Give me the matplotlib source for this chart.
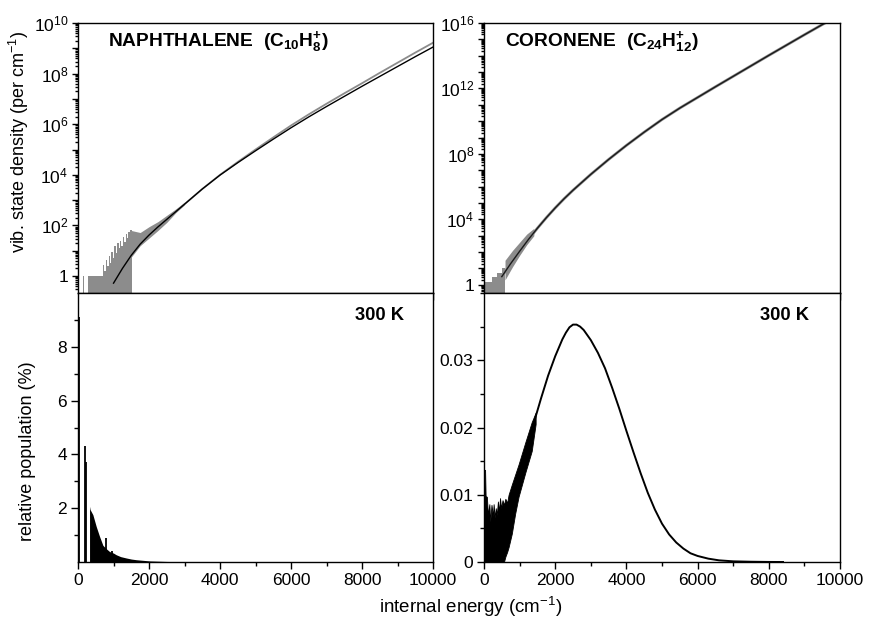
import numpy as np
import matplotlib.pyplot as plt
from matplotlib.ticker import FixedLocator, FuncFormatter, MultipleLocator, NullFormatter

plt.rcParams["font.family"] = ["Liberation Sans", "DejaVu Sans"]
plt.rcParams["mathtext.fontset"] = "custom"
plt.rcParams["mathtext.rm"] = "Liberation Sans"
plt.rcParams["mathtext.bf"] = "Liberation Sans:bold"
plt.rcParams["mathtext.it"] = "Liberation Sans:italic"

### DATA
# naphthalene, state density: exact count histogram (gray, log10 per cm-1)
naph_hist_E = [140, 165, 290, 700, 740, 780, 820, 860, 900, 940, 980, 1020, 1060,
               1100, 1140, 1180, 1220, 1260, 1300, 1340, 1380, 1420, 1460, 1510]
naph_hist_log = [0.0, -3, 0.0, 0.45, 0.2, 0.65, 0.4, 0.8, 0.5, 0.95, 0.7, 1.2, 0.9,
                 1.3, 1.1, 1.4, 1.2, 1.55, 1.35, 1.65, 1.5, 1.75, 1.8, 1.8]
naph_band_E = [1500, 1750, 2000, 2250, 2500, 2750, 3000]
naph_band_hi = [1.8, 1.72, 1.95, 2.15, 2.4, 2.65, 2.92]
naph_band_lo = [0.75, 1.2, 1.5, 1.8, 2.12, 2.5, 2.82]
# smooth exact count (gray) and approximation (black)
naph_E = [1000, 1250, 1500, 1750, 2000, 2250, 2500, 2750, 3000, 3500, 4000, 4500,
          5000, 5500, 6000, 6500, 7000, 7500, 8000, 8500, 9000, 9500, 10000]
naph_exact_log = [-0.28, 0.3, 0.82, 1.26, 1.62, 1.94, 2.24, 2.54, 2.84, 3.44, 4.0,
                  4.51, 5.0, 5.48, 5.95, 6.39, 6.81, 7.22, 7.62, 8.03, 8.43, 8.83, 9.22]
naph_approx_log = [-0.28, 0.3, 0.82, 1.26, 1.62, 1.94, 2.24, 2.54, 2.84, 3.44, 3.99,
                   4.48, 4.95, 5.41, 5.86, 6.29, 6.7, 7.1, 7.5, 7.89, 8.28, 8.67, 9.05]

# coronene, state density
cor_hist_E = [0, 230, 370, 500, 600]
cor_hist_log = [0.15, 0.45, 0.7, 1.0, 1.0]
cor_band_E = [590, 800, 1000, 1200, 1400]
cor_band_hi = [1.5, 2.1, 2.6, 3.1, 3.45]
cor_band_lo = [0.3, 1.1, 1.8, 2.45, 3.0]
cor_E = [500, 750, 1000, 1250, 1500, 1750, 2000, 2250, 2500, 3000, 3500, 4000,
         4500, 5000, 5500, 6000, 6500, 7000, 7500, 8000, 8500, 9000, 9500, 10000]
cor_log = [0.5, 1.3, 2.05, 2.78, 3.46, 4.1, 4.7, 5.26, 5.78, 6.75, 7.66, 8.52,
           9.33, 10.1, 10.8, 11.45, 12.1, 12.74, 13.38, 14.02, 14.65, 15.28, 15.9, 16.5]

# naphthalene, relative population at 300 K (%)
naph_spike_E = [15, 183, 230, 794, 963]
naph_spike_pop = [9.1, 4.32, 3.70, 0.89, 0.42]
naph_pop_E = [324, 340, 417, 512, 606, 700, 790, 887, 1000, 1075, 1200, 1357,
              1500, 1640, 2019, 2500, 3000, 3500]
naph_pop = [2.07, 1.95, 1.76, 1.32, 0.95, 0.62, 0.5, 0.39, 0.33, 0.27, 0.2, 0.15,
            0.11, 0.085, 0.04, 0.02, 0.01, 0.0]

# coronene, relative population at 300 K (%)
cor_noise_E = [0, 30, 45, 80, 110, 150, 175, 210, 250, 270, 300, 330, 360, 390,
               420, 450, 480, 520, 560, 600, 650, 690, 780, 875, 970, 1160, 1340, 1450]
cor_noise_hi = [0.0137, 0.0137, 0.0098, 0.0097, 0.0070, 0.0086, 0.0060, 0.0085,
                0.0068, 0.0086, 0.0066, 0.0080, 0.0070, 0.0090, 0.0075, 0.0095,
                0.0080, 0.0092, 0.0085, 0.0094, 0.0088, 0.0100, 0.0115, 0.0130,
                0.0145, 0.0178, 0.0208, 0.0222]
cor_noise_lo = [0, 0, 0, 0, 0, 0, 0, 0, 0, 0, 0, 0, 0, 0, 0, 0, 0, 0, 0, 0.0008,
                0.0015, 0.0022, 0.0042, 0.0072, 0.0097, 0.0133, 0.0165, 0.0205]
cor_pop_E = [1400, 1600, 1800, 2000, 2200, 2300, 2400, 2500, 2600, 2700, 2800,
             3000, 3200, 3400, 3600, 3800, 4000, 4200, 4400, 4600, 4800, 5000,
             5200, 5400, 5600, 5800, 6000, 6300, 6600, 7000, 7500, 8000, 8400]
cor_pop = [0.0207, 0.0243, 0.0277, 0.0306, 0.0331, 0.0341, 0.0349, 0.0353, 0.0353,
           0.0350, 0.0345, 0.0330, 0.0311, 0.0288, 0.0259, 0.0228, 0.0195, 0.0163,
           0.0132, 0.0103, 0.0078, 0.0057, 0.0041, 0.0029, 0.0020, 0.0013, 0.0009,
           0.0005, 0.00025, 0.0001, 0.00004, 0.00001, 0.0]

GRAY = "#8c8c8c"

fig = plt.figure(figsize=(8.71, 6.23), dpi=100)
ax_nd = fig.add_axes([0.0896, 0.5297, 0.4076, 0.4334])
ax_cd = fig.add_axes([0.5557, 0.5297, 0.4087, 0.4334])
ax_np = fig.add_axes([0.0896, 0.0979, 0.4076, 0.4318])
ax_cp = fig.add_axes([0.5557, 0.0979, 0.4087, 0.4318])


def log_axis(ax, top, labelled):
    ax.set_yscale("log")
    ax.yaxis.set_major_locator(FixedLocator([10.0**k for k in range(0, top + 1)]))
    ax.yaxis.set_minor_locator(FixedLocator(
        [s * 10.0**k for k in range(-1, top + 1) for s in range(2, 10)]))

    def fmt(v, pos):
        k = int(round(np.log10(v)))
        if k not in labelled:
            return ""
        return "1" if k == 0 else "10$^{%d}$" % k

    ax.yaxis.set_major_formatter(FuncFormatter(fmt))
    ax.yaxis.set_minor_formatter(NullFormatter())
    ax.tick_params(axis="y", which="major", length=4)
    ax.tick_params(axis="y", which="minor", length=2.5)
    ax.set_xticks(range(1000, 10001, 1000))
    ax.tick_params(axis="x", labelbottom=False, length=5)


### TOP LEFT: naphthalene state density
ax = ax_nd
ax.fill_between(naph_hist_E, 1e-3, 10**np.array(naph_hist_log), step="post",
                color=GRAY, lw=0)
ax.fill_between(naph_band_E, 10**np.array(naph_band_lo), 10**np.array(naph_band_hi),
                color=GRAY, lw=0)
ax.plot(naph_E, 10**np.array(naph_exact_log), color=GRAY, lw=1.3)
ax.plot(naph_E, 10**np.array(naph_approx_log), color="black", lw=1.0)
ax.set_xlim(0, 10000)
ax.set_ylim(10**-0.67, 1e10)
log_axis(ax, 10, [0, 2, 4, 6, 8, 10])
ax.text(0.085, 0.915, "NAPHTHALENE  (C$_{\\mathbf{10}}$H$_{\\mathbf{8}}^{\\mathbf{+}}$)",
        transform=ax.transAxes, fontsize=13.8, fontweight="bold")

### TOP RIGHT: coronene state density
ax = ax_cd
ax.fill_between(cor_hist_E, 1e-3, 10**np.array(cor_hist_log), step="post",
                color=GRAY, lw=0)
ax.fill_between(cor_band_E, 10**np.array(cor_band_lo), 10**np.array(cor_band_hi),
                color=GRAY, lw=0)
ax.plot(cor_E, 10**np.array(cor_log), color=GRAY, lw=2.0)
ax.plot(cor_E, 10**np.array(cor_log), color="#1a1a1a", lw=1.0)
ax.set_xlim(0, 10000)
ax.set_ylim(10**-0.5, 1e16)
log_axis(ax, 16, [0, 4, 8, 12, 16])
ax.text(0.06, 0.915, "CORONENE  (C$_{\\mathbf{24}}$H$_{\\mathbf{12}}^{\\mathbf{+}}$)",
        transform=ax.transAxes, fontsize=13.8, fontweight="bold")

### BOTTOM LEFT: naphthalene population
ax = ax_np
ax.vlines(naph_spike_E, 0, naph_spike_pop, color="black", lw=1.3)
ax.fill_between([naph_pop_E[0]] + naph_pop_E, [0] + naph_pop, 0,
                color="black", lw=0)
ax.set_xlim(0, 10000)
ax.set_ylim(0, 10)
ax.set_yticks([2, 4, 6, 8])
ax.yaxis.set_minor_locator(FixedLocator([1, 3, 5, 7, 9]))
ax.text(0.78, 0.9, "300 K", transform=ax.transAxes, fontsize=13.2, fontweight="bold")

### BOTTOM RIGHT: coronene population
ax = ax_cp
ax.fill_between(cor_noise_E, cor_noise_lo, cor_noise_hi, color="black", lw=0.6)
ax.plot(cor_pop_E, cor_pop, color="black", lw=1.4)
ax.set_xlim(0, 10000)
ax.set_ylim(0, 0.04)
ax.set_yticks([0, 0.01, 0.02, 0.03])
ax.set_yticklabels(["0", "0.01", "0.02", "0.03"])
ax.yaxis.set_minor_locator(MultipleLocator(0.005))
ax.text(0.775, 0.9, "300 K", transform=ax.transAxes, fontsize=13.2, fontweight="bold")

for ax in (ax_np, ax_cp):
    ax.set_xticks(range(0, 10001, 2000))
    ax.set_xticklabels([str(v) for v in range(0, 10001, 2000)])
    ax.xaxis.set_minor_locator(MultipleLocator(1000))
    ax.tick_params(which="major", length=5)
    ax.tick_params(which="minor", length=3)

for ax in (ax_nd, ax_cd, ax_np, ax_cp):
    ax.tick_params(which="both", direction="out", labelsize=12.5, width=1.0,
                   top=False, right=False, pad=3)
    for s in ax.spines.values():
        s.set_linewidth(1.0)

fig.text(0.022, 0.772, "vib. state density (per cm$^{-1}$)", rotation=90,
         ha="center", va="center", fontsize=13)
fig.text(0.031, 0.276, "relative population (%)", rotation=90,
         ha="center", va="center", fontsize=13)
fig.text(0.54, 0.025, "internal energy (cm$^{-1}$)", ha="center", va="center",
         fontsize=13.5)

fig.savefig("out.png", dpi=100)
